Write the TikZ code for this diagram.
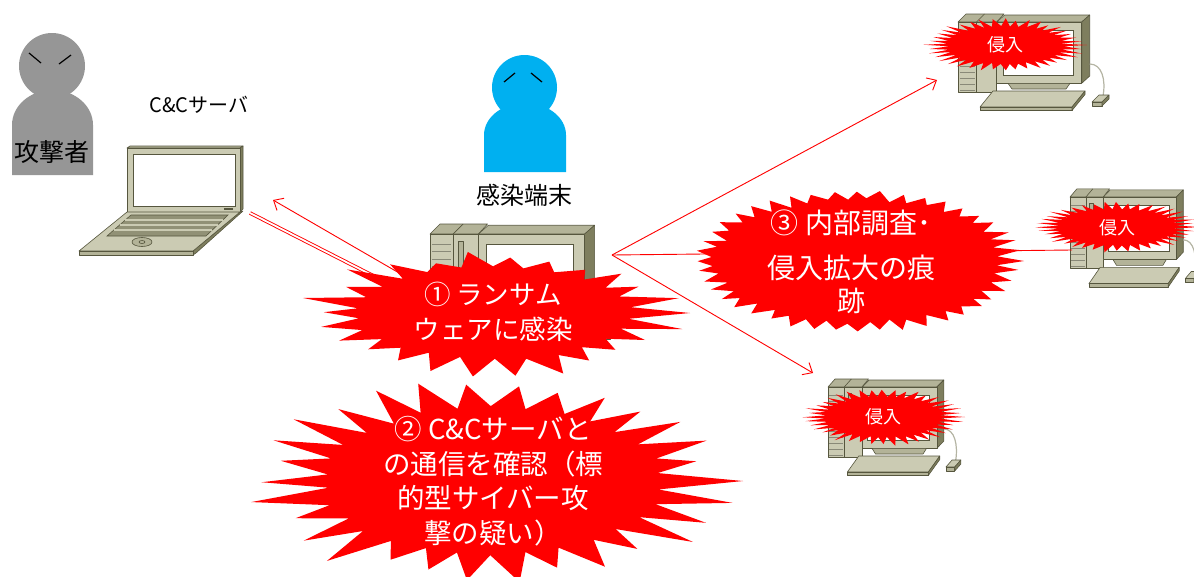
\documentclass[tikz,border=0pt]{standalone}
\usepackage{fontspec}
\setmainfont{Noto Sans CJK JP}
\usetikzlibrary{arrows.meta}

\definecolor{burstred}{HTML}{FF0000}
\definecolor{attgray}{HTML}{969696}
\definecolor{userblue}{HTML}{00B0F0}
\definecolor{pclight}{HTML}{CBCBB3}
\definecolor{pcmid}{HTML}{B3B398}
\definecolor{pcdark}{HTML}{7E7E5E}
\definecolor{pcline}{HTML}{56563E}

\tikzset{
  pcface/.style={fill=pclight, draw=pcline, line width=0.6pt, line join=round},
  pcshade/.style={fill=pcmid, draw=pcline, line width=0.6pt, line join=round},
  pcside/.style={fill=pcdark, draw=pcline, line width=0.6pt, line join=round},
  link/.style={draw=burstred, line width=0.9pt},
  linkarrow/.style={link, -{Straight Barb[length=8pt,width=14pt]}},
  burstlabel/.style={text=white, align=center, inner sep=0pt},
  caption/.style={text=black, inner sep=0pt},
  eye/.style={draw=black, line width=1.2pt},
}

% desktop computer: tower, monitor, keyboard, mouse
% #1,#2 = front top-left corner of the tower, #3 = xscale, #4 = yscale
\newcommand\desktop[4]{%
\begin{scope}[shift={(#1,#2)}, xscale=#3, yscale=#4]
  \draw[pcshade] (0,0) -- (8,-8) -- (46,-8) -- (38.7,0) -- cycle;
  \draw[pcline, line width=0.6pt] (18.5,0) -- (26.5,-8);
  \draw[pcface] (0,0) rectangle (18.5,70);
  \draw[pcface] (18.5,0) rectangle (38.7,70);
  \foreach \s in {8,14,...,68} \draw[pcline!70, line width=0.5pt] (1.5,\s) -- (17,\s);
  \draw[pcshade] (23,6) rectangle (27,36);
  \draw[pcshade] (38.7,0) -- (46.7,-7) -- (131.7,-7) -- (123.7,0) -- cycle;
  \draw[pcside] (123.7,0) -- (131.7,-7) -- (131.7,54) -- (123.7,61.3) -- cycle;
  \draw[pcface] (38.7,0) rectangle (123.7,61.3);
  \draw[fill=white, draw=pcline, line width=0.6pt] (45,8) rectangle (115,53);
  \draw[pcshade] (50,61.3) -- (112,61.3) -- (108,67) -- (54,67) -- cycle;
  \draw[pcface] (35,69) -- (127,69) -- (114,85) -- (22,85) -- cycle;
  \draw[pcshade] (22,85) -- (114,85) -- (114,88.5) -- (22,88.5) -- cycle;
  \draw[pcside] (114,85) -- (127,69) -- (127,72.5) -- (114,88.5) -- cycle;
  \draw[pclight!70!gray, line width=1.2pt] (131.7,42) .. controls (144,42) and (148,58) .. (145,74);
  \draw[pcface] (134,80) -- (141,73) -- (151,73) -- (144,80) -- cycle;
  \draw[pcshade] (134,80) -- (144,80) -- (144,84) -- (134,84) -- cycle;
  \draw[pcside] (144,80) -- (151,73) -- (151,77) -- (144,84) -- cycle;
\end{scope}}

% explosion burst: #1,#2 centre, #3,#4 radii, #5 spikes, #6 inner ratio,
% #7 seed, #8 spread of the spike tips
\newcommand\burst[8]{%
  \pgfmathsetseed{#7}%
  \pgfmathtruncatemacro\burstN{2*#5-1}%
  \fill[burstred] ({#1+#3},{#2})
    \foreach \k [evaluate=\k as \bang using {\k*180/#5+2*(rnd-0.5)},
                 evaluate=\k as \bfac using {mod(\k,2)==0 ? 1-#8*rnd : #6*(1+0.06*(rnd-0.5))}]
      in {1,...,\burstN} { -- ({#1+#3*\bfac*cos(\bang)},{#2+#4*\bfac*sin(\bang)}) } -- cycle;}

\begin{document}
\begin{tikzpicture}[x=1pt,y=-1pt]
\useasboundingbox (0,0) rectangle (1194,576);
\clip (0,0) rectangle (1194,576);

% attacker
\fill[attgray] (12,175) -- (12,125) arc[start angle=180, end angle=360, x radius=40.5, y radius=35] -- (93,175) -- cycle;
\fill[attgray] (52,66) circle[radius=33];
\draw[eye] (29,53) -- (41,63);
\draw[eye] (59,64) -- (71,55);
\node[caption, font=\fontsize{25}{30}\selectfont] (attackerlabel) at (52,152) {攻撃者};

% infected user
\fill[userblue] (484,172) -- (484,135) arc[start angle=180, end angle=360, x radius=41, y radius=32] -- (566,172) -- cycle;
\fill[userblue] (524.5,87.5) circle[radius=32.5];
\draw[eye] (504,82) -- (515,73);
\draw[eye] (531,73) -- (542,82);
\node[caption, font=\fontsize{24}{28}\selectfont] (hostlabel) at (524,195) {感染端末};

% C&C server laptop
\node[caption, font=\fontsize{20}{24}\selectfont] (cclabel) at (199,105) {C\&Cサーバ};
\draw[pcshade] (127,148) -- (130,146) -- (243,146) -- (240,148) -- cycle;
\draw[pcside] (240,148) -- (243,146) -- (243,209) -- (240,212) -- cycle;
\draw[pcface] (127,148) rectangle (240,212);
\draw[fill=white, draw=pcline, line width=0.6pt] (133,154) rectangle (235,206);
\fill[pcline] (224,207.5) rectangle (233,209.5);
\draw[pcside] (240,212) -- (243,211) -- (196,253) -- (193,255) -- (193,251) -- cycle;
\draw[pcface] (127,212) -- (240,212) -- (193,251) -- (79,251) -- cycle;
\draw[pcshade] (79,251) -- (193,251) -- (193,255) -- (79,255) -- cycle;
\draw[fill=pcdark!85, draw=pcline, line width=0.6pt] (131,215) -- (228,215) -- (206,236) -- (107,236) -- cycle;
\draw[pclight, line width=1.4pt] (125.3,220) -- (222.8,220) (119.6,225) -- (217.5,225) (113.9,230) -- (212.3,230);
\draw[pcshade] (142,242) ellipse[x radius=10, y radius=4.5];
\draw[pcline, line width=0.6pt] (142,242) ellipse[x radius=3, y radius=1.5];

% computers
\desktop{430}{234}{1.25}{1.25}
\desktop{958}{22}{1}{1}
\desktop{1070}{197}{0.86}{1.02}
\desktop{828}{387}{0.88}{1}

% connections
\coordinate (ccport) at (273,200);
\coordinate (ccline) at (250,213);
\coordinate (hostA) at (470,314);
\coordinate (hostB) at (470,325);
\coordinate (hostR) at (612,255);
\coordinate (pcTop) at (937,80);
\coordinate (pcMid) at (1072,250);
\coordinate (pcLow) at (813,373);
\draw[linkarrow] (hostA) -- (ccport);
\draw[link, double=white, double distance=1.8pt] (ccline) -- (hostB);
\draw[linkarrow] (hostR) -- (pcTop);
\draw[link] (hostR) -- (pcMid);
\draw[linkarrow] (hostR) -- (pcLow);

% bursts
\burst{493}{313}{197}{66}{26}{0.70}{11}{0.2}
\node[burstlabel, font=\fontsize{26.5}{35}\selectfont] (step1) at (493,312) {① ランサム\\ウェアに感染};

\burst{493}{481}{250}{108}{30}{0.68}{7}{0.18}
\node[burstlabel, font=\fontsize{27.5}{34.5}\selectfont] (step2) at (493,481) {② C\&Cサーバと\\の通信を確認（標\\的型サイバー攻\\撃の疑い）};

\burst{858}{261}{166}{72}{44}{0.86}{5}{0.05}
\node[burstlabel, font=\fontsize{28}{33}\selectfont] (step3) at (851,262) {③ 内部調査･\\[12pt]侵入拡大の痕\\跡};

\burst{1005}{45}{82}{27}{40}{0.70}{3}{0.1}
\node[burstlabel, font=\fontsize{18}{22}\selectfont] (intrusionA) at (1005,45) {侵入};
\burst{1117}{227}{83}{26}{40}{0.70}{4}{0.1}
\node[burstlabel, font=\fontsize{18}{22}\selectfont] (intrusionB) at (1117,228) {侵入};
\burst{883}{417}{82}{29}{40}{0.70}{9}{0.1}
\node[burstlabel, font=\fontsize{18}{22}\selectfont] (intrusionC) at (883,417) {侵入};
\end{tikzpicture}
\end{document}
